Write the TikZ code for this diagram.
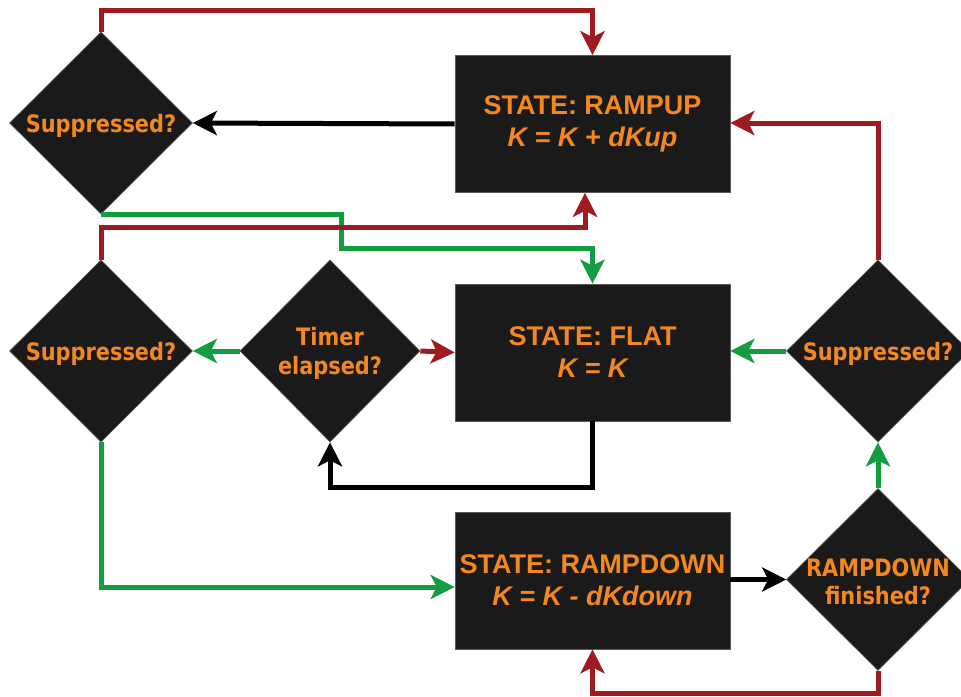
\documentclass[tikz,border=0pt]{standalone}
\usepackage{fontspec}
\usetikzlibrary{shapes.geometric,arrows.meta,calc}
\newfontfamily\dfont[FakeStretch=0.87]{DejaVu Sans}
\newfontfamily\bfont{Liberation Sans}
\definecolor{boxfill}{HTML}{1A1A1A}
\definecolor{txt}{HTML}{F5871F}
\definecolor{cred}{HTML}{9E1B20}
\definecolor{cgreen}{HTML}{139C40}
\tikzset{
  statebox/.style={rectangle, fill=boxfill, draw=black!65, line width=0.6pt,
    minimum width=275pt, minimum height=137pt, inner sep=0pt, align=center,
    text=txt, font=\bfont\bfseries\fontsize{27}{32}\selectfont},
  dtext/.style={align=center, text=txt, inner sep=0pt, yshift=-2.5pt,
    font=\dfont\bfseries\fontsize{24}{28.5}\selectfont},
  decision/.style={diamond, fill=boxfill, draw=black!65, line width=0.6pt,
    minimum width=183pt, minimum height=182pt, inner sep=0pt,
    label={[dtext]center:#1}},
  conn/.style={line width=5pt, -{Stealth[length=24pt,width=24pt,inset=6pt]}},
  redc/.style={conn, draw=cred},
  greenc/.style={conn, draw=cgreen},
  blackc/.style={conn, draw=black},
}
\begin{document}
\begin{tikzpicture}[x=1pt,y=-1pt]
\useasboundingbox (0,0) rectangle (961,696);
\node[statebox] (up) at (592.5,124) {STATE: RAMPUP\\{\itshape K = K + dKup}};
\node[statebox] (flat) at (592.5,352.5) {STATE: FLAT\\{\itshape K = K}};
\node[statebox] (down) at (592.5,580.5) {STATE: RAMPDOWN\\{\itshape K = K - dKdown}};
\node[decision={Suppressed?}] (s1) at (101,123) {};
\node[decision={Suppressed?}] (s2) at (101,351) {};
\node[decision={Timer\\elapsed?}, minimum width=180pt] (timer) at (330,351) {};
\node[decision={Suppressed?}] (s3) at (878,351) {};
\node[decision={RAMPDOWN\\finished?}] (fin) at (878,579.5) {};
\coordinate (c1) at (592.5,10);
\coordinate (g1) at (341,248);
\coordinate (r2) at (585,227);
\coordinate (b1) at (0,487);
\coordinate (g2) at (101,587);
\coordinate (r3) at (0,693);
% connectors
\draw[redc] (s1.north) |- (c1) -- (c1 |- up.north);
\draw[blackc] (up.west) -- (s1.east);
\draw[greenc] (s1.south) -| (g1) -- (g1 -| flat.north) -- (flat.north);
\draw[redc] (s2.north) |- (r2) -- (r2 |- up.south);
\draw[greenc] (timer.west) -- (s2.east);
\draw[redc] (timer.east) -- (flat.west);
\draw[blackc] (flat.south) -- (flat.south |- b1) -| (timer.south);
\draw[greenc] (s2.south) -- (g2) -- (g2 -| down.west);
\draw[greenc] (s3.west) -- (s3.west -| flat.east);
\draw[redc] (s3.north) |- (s1 -| up.east);
\draw[greenc] (fin.north) -- (s3.south);
\draw[blackc] (fin.west -| down.east) -- (fin.west);
\draw[redc] (fin.south) -- (fin.south |- r3) -| (down.south);
\end{tikzpicture}
\end{document}
